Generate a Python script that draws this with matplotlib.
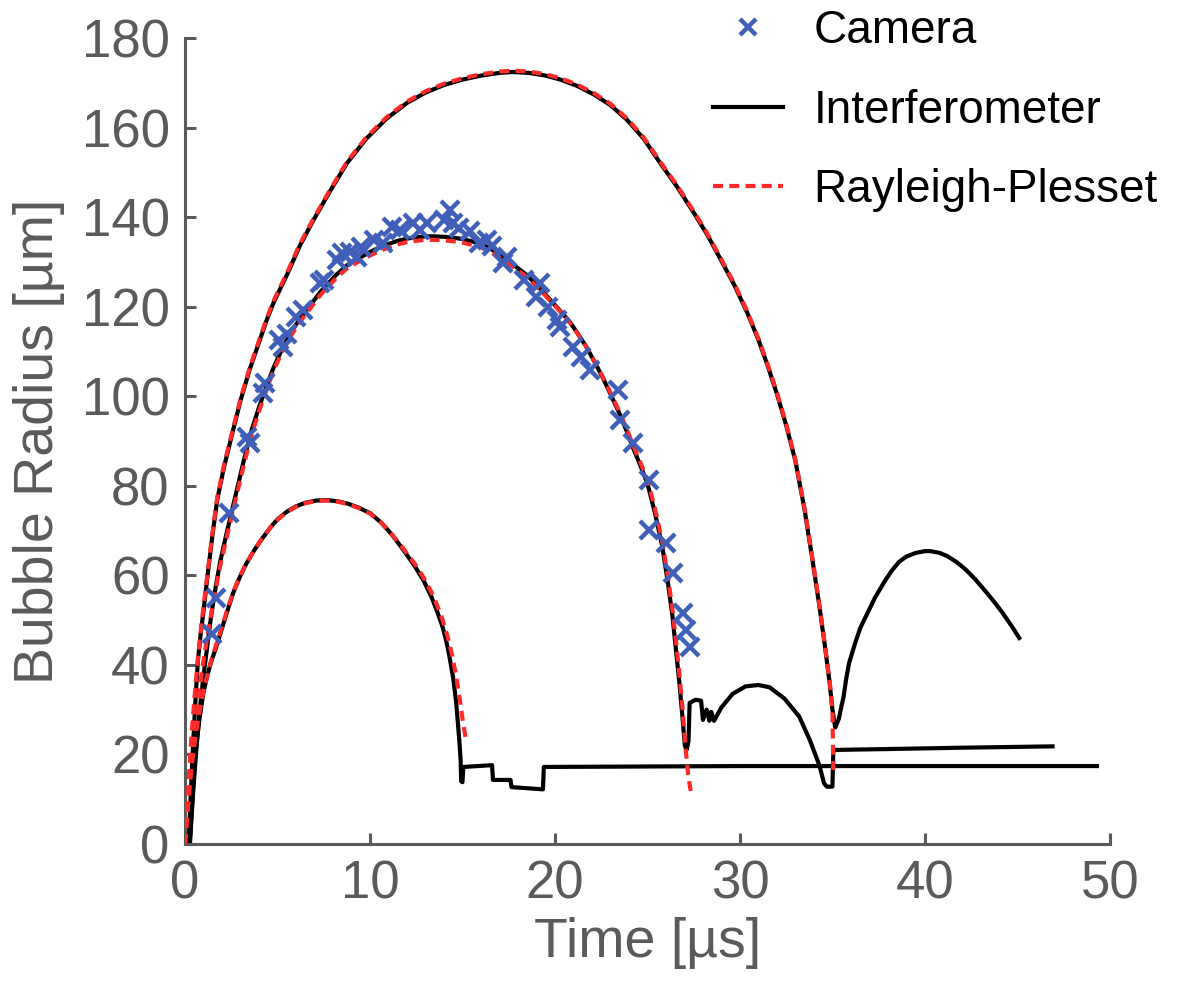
import matplotlib
matplotlib.use("Agg")
import matplotlib.pyplot as plt

plt.rcParams["font.family"] = ["Liberation Sans", "DejaVu Sans"]

# --- Camera measurements (time in us, radius in um) ---
cam_t = [1.45, 1.7, 2.4, 3.35, 3.5, 4.2, 4.3, 5.1, 5.3, 5.5, 6.0, 6.4, 7.3, 7.5,
         8.2, 8.5, 8.9, 9.3, 9.5, 10.2, 10.7, 11.2, 11.6, 12.3, 12.7, 13.1, 14.0,
         14.3, 14.5, 14.8, 15.4, 15.9, 16.3, 16.6, 17.2, 17.4, 18.3, 19.0, 19.2,
         19.6, 20.1, 20.3, 21.0, 21.4, 21.9, 23.4, 23.5, 24.2, 25.1, 25.1, 26.0,
         26.4, 26.9, 27.1, 27.3]
cam_r = [47, 55, 74, 91, 89.5, 100.7, 103, 112.5, 111, 114, 117.7, 119.2, 125.3, 126,
         130.4, 132, 132.2, 131, 133.3, 134.9, 134.2, 137.8, 137.1, 138.7, 137.1, 138.7, 139.3,
         141.6, 138.7, 137.5, 136.8, 134.2, 134.9, 133.5, 129.7, 131.1, 126, 122.2, 125.3,
         120, 117, 115.5, 111, 108.8, 105.9, 101.4, 94.7, 89.5, 81.3, 70.1, 67.2,
         60.5, 51.6, 47.8, 44]

# --- Interferometer traces ---
small_t = [0.27, 0.4, 0.54, 0.75, 0.99, 1.2, 1.4, 1.65, 1.9, 2.25, 2.6, 2.95, 3.3,
           3.7, 4.05, 4.6, 5.0, 5.5, 6.0, 6.5, 7.1, 7.7, 8.3, 8.8, 9.4, 10.0, 10.6,
           11.2, 11.8, 12.4, 12.9, 13.3, 13.6, 13.9, 14.1, 14.3, 14.5, 14.65, 14.75,
           14.85, 14.9, 14.93, 15.0, 15.05, 16.6, 16.65, 17.6, 17.65, 19.35, 19.4,
           30.0, 49.3]
small_r = [0, 10, 18.8, 27, 33.7, 37.5, 40.5, 43.5, 46.8, 51.5, 56, 59.5, 62.5,
           65.3, 67.5, 70.6, 72.5, 74.2, 75.4, 76.2, 76.7, 76.8, 76.5, 76, 75.1, 73.9, 71.8,
           69, 65.7, 62.2, 58.8, 55.4, 52.3, 48.8, 45.8, 41.8, 37, 32, 27.2,
           22, 18.8, 14, 13.8, 17.2, 17.6, 14.3, 14.3, 12.7, 12.2, 17.2,
           17.4, 17.4]

med_t = [0.25, 0.4, 0.5, 0.65, 0.8, 1.0, 1.2, 1.4, 1.6, 1.9, 2.2, 2.4, 2.8, 3.2,
         3.6, 4.0, 4.3, 4.8, 5.3, 5.7, 6.0, 6.5, 6.9, 7.3, 7.7, 8.2, 8.75, 9.4,
         10.0, 10.5, 11.0, 11.5, 12.0, 12.5, 13.0, 13.5, 14.0, 14.5, 15.0, 15.5,
         15.9, 16.5, 17.2, 17.8, 18.5, 19.2, 19.9, 20.4, 20.8, 21.2, 21.7, 22.2,
         22.6, 23.0, 23.5, 23.9, 24.2, 24.6, 25.0, 25.4, 25.8, 26.1, 26.35, 26.55,
         26.75, 26.9, 27.02, 27.12, 27.22, 27.28, 27.6, 27.9, 28.0, 28.2, 28.35,
         28.45, 28.6, 29.0, 29.6, 30.3, 31.0, 31.6, 32.4, 33.2, 33.8, 34.3, 34.55,
         34.7, 35.0, 35.05, 38.0, 42.0, 46.9]
med_r = [0, 9, 15, 23, 30, 37.5, 44, 50.5, 56, 63, 68.5, 72, 79, 86,
         92.4, 97.5, 101, 106.5, 111, 114, 116, 118.8, 121, 123.2, 125, 127.2, 129.2, 130.8,
         132.2, 133.2, 134, 134.7, 135.2, 135.5, 135.7, 135.7, 135.6, 135.4, 135.1, 134.6,
         134.2, 133, 131, 129.2, 127, 124, 120.8, 118.5, 116.6, 114.2, 111, 107.2,
         104, 100.5, 96, 92, 88.7, 84.7, 80.5, 74, 66.5, 58.5, 51, 43,
         35, 28, 22, 21, 23, 31.5, 32.2, 32, 27.7, 30, 27.5,
         29.5, 27.5, 30.5, 33.5, 35.2, 35.5, 35, 32.5, 28.5, 23, 17.5, 13.5,
         12.8, 12.8, 21, 21.2, 21.5, 21.8]

big_t = [0.2, 0.3, 0.4, 0.55, 0.7, 0.85, 1.0, 1.25, 1.5, 1.75, 2.1, 2.6, 3.0, 3.5,
         4.0, 4.4, 4.8, 5.5, 6.2, 6.9, 7.8, 8.75, 9.8, 10.9, 12.0, 13.0, 14.0,
         15.0, 16.0, 17.0, 17.7, 18.6, 19.5, 20.3, 21.2, 22.1, 23.0, 23.9, 24.8,
         25.7, 26.6, 27.5, 28.2, 28.9, 29.7, 30.4, 31.0, 31.5, 32.0, 32.5, 33.0,
         33.5, 33.9, 34.3, 34.6, 34.85, 35.0, 35.15, 35.35, 35.5, 35.6, 35.75,
         35.9, 36.2, 36.5, 36.9, 37.3, 37.8, 38.2, 38.6, 39.0, 39.5, 40.0, 40.3,
         40.8, 41.2, 41.7, 42.2, 42.7, 43.2, 43.7, 44.2, 44.7, 45.1]
big_r = [0, 10, 19, 31, 41, 47, 52, 61, 69.5, 77, 84, 92.4, 99, 106,
         112, 116.8, 121, 127, 133.5, 139, 145.5, 152, 157.5, 162, 165.5, 167.8, 169.5,
         170.7, 171.6, 172.2, 172.4, 172.2, 171.6, 170.7, 169.3, 167.4, 165, 161.7, 157.5,
         152, 146.8, 141, 136.3, 131, 124.8, 118.6, 112.6, 106.8, 100.5, 93.5, 85.5,
         74.5, 64, 53, 44, 36, 30, 26, 28, 31, 32.8, 37,
         40.4, 44.5, 48.2, 51.6, 55, 58.5, 61, 63, 64.2, 65, 65.4, 65.4,
         65, 64.3, 63, 61.3, 59.2, 56.8, 54.3, 51.6, 48.6, 46]

# --- Rayleigh-Plesset fits ---
rp_small_t = [0.0, 0.15, 0.3, 0.45, 0.6, 0.8, 1.0, 1.2, 1.4, 1.65, 1.9, 2.25, 2.6,
              2.95, 3.3, 3.7, 4.05, 4.6, 5.0, 5.5, 6.0, 6.5, 7.1, 7.7, 8.3, 8.8, 9.4,
              10.0, 10.6, 11.2, 11.8, 12.4, 12.9, 13.3, 13.6, 13.9, 14.2, 14.45, 14.65,
              14.85, 15.0, 15.2]
rp_small_r = [0, 8, 15, 20.5, 25, 29.8, 34, 37.5, 40.8, 44, 47.2, 51.8, 56.2,
              59.6, 62.6, 65.3, 67.5, 70.6, 72.4, 74.1, 75.3, 76.1, 76.6, 76.7, 76.4, 75.9, 75,
              73.8, 71.8, 69.1, 66, 62.7, 59.5, 56.4, 53.6, 50.4, 46.3, 42, 37.7,
              32.5, 28, 23]

rp_med_t = [0.0, 0.15, 0.3, 0.45, 0.6, 0.8, 1.0, 1.2, 1.4, 1.6, 1.9, 2.2, 2.4, 2.8,
            3.2, 3.6, 4.0, 4.3, 4.8, 5.3, 5.7, 6.0, 6.5, 6.9, 7.3, 7.7, 8.2, 8.75,
            9.4, 10.0, 10.5, 11.0, 11.5, 12.0, 12.5, 13.0, 13.5, 14.0, 14.5, 15.0,
            15.5, 15.9, 16.5, 17.2, 17.8, 18.5, 19.2, 19.9, 20.4, 20.8, 21.2, 21.7,
            22.2, 22.6, 23.0, 23.5, 23.9, 24.2, 24.6, 25.0, 25.4, 25.8, 26.1, 26.35,
            26.55, 26.75, 26.9, 27.05, 27.2, 27.35]
rp_med_r = [0, 8, 16, 22.5, 28, 35, 41, 46, 51, 55.5, 62, 67.5, 71, 78,
            85, 91.3, 96.6, 100.2, 105.8, 110.3, 113.3, 115.3, 118.2, 120.3, 122.5, 124.3, 126.5, 128.5,
            130.1, 131.4, 132.4, 133.2, 133.9, 134.4, 134.7, 134.9, 134.9, 134.8, 134.6, 134.3,
            133.8, 133.4, 132.3, 130.4, 128.7, 126.6, 123.7, 120.6, 118.4, 116.5, 114.1, 111,
            107.3, 104.2, 100.8, 96.4, 92.5, 89.3, 85.4, 81.3, 75, 67.6, 59.8, 52.5,
            45, 37, 30, 22, 15.5, 11.5]

rp_big_t = [0.0, 0.1, 0.2, 0.35, 0.5, 0.7, 0.85, 1.0, 1.25, 1.5, 1.75, 2.1, 2.6, 3.0,
            3.5, 4.0, 4.4, 4.8, 5.5, 6.2, 6.9, 7.8, 8.75, 9.8, 10.9, 12.0, 13.0,
            14.0, 15.0, 16.0, 17.0, 17.7, 18.6, 19.5, 20.3, 21.2, 22.1, 23.0, 23.9,
            24.8, 25.7, 26.6, 27.5, 28.2, 28.9, 29.7, 30.4, 31.0, 31.5, 32.0, 32.5,
            33.0, 33.5, 33.9, 34.3, 34.6, 34.85, 35.0, 35.05]
rp_big_r = [0, 7, 14, 24, 32, 41.5, 47.5, 53, 61.5, 70, 77.5, 84.5, 92.8, 99.4,
            106.4, 112.4, 117.2, 121.4, 127.4, 133.9, 139.3, 145.8, 152.3, 157.8, 162.3, 165.8, 168.1,
            169.8, 171, 171.9, 172.5, 172.7, 172.5, 171.9, 171, 169.6, 167.7, 165.3, 162,
            157.8, 152.3, 147.1, 141.3, 136.6, 131.3, 125.1, 118.9, 112.9, 107.1, 100.8, 93.8,
            85.8, 74.8, 64.3, 53.3, 44.3, 36.3, 30, 16.5]

x_ticks = [0, 10, 20, 30, 40, 50]
y_ticks = [0, 20, 40, 60, 80, 100, 120, 140, 160, 180]

GREY = "#5a5a5a"
BLUE = "#3f5fb8"
RED = "#ff2a2a"
LW = 3.0
DASH = (2.4, 1.5)

fig = plt.figure(figsize=(11.82, 9.84), dpi=100)
ax = fig.add_axes([0.1565, 0.1423, 0.7825, 0.8191])

# black interferometer traces
ax.plot(small_t, small_r, color="black", lw=LW, solid_joinstyle="round", zorder=2)
ax.plot(med_t, med_r, color="black", lw=LW, solid_joinstyle="round", zorder=2)
ax.plot(big_t, big_r, color="black", lw=LW, solid_joinstyle="round", zorder=2,
        label="Interferometer")

# red RP fits
for t, r in [(rp_small_t, rp_small_r), (rp_med_t, rp_med_r)]:
    ax.plot(t, r, color=RED, lw=LW, dashes=DASH, zorder=3)
ax.plot(rp_big_t, rp_big_r, color=RED, lw=LW, dashes=DASH, zorder=3,
        label="Rayleigh-Plesset")

# camera points
ax.plot(cam_t, cam_r, linestyle="none", marker="x", color=BLUE, ms=13, mew=3.2,
        zorder=4, label="Camera")

ax.set_xlim(0, 50)
ax.set_ylim(0, 180)
ax.set_xticks(x_ticks)
ax.set_yticks(y_ticks)

for side in ["top", "right"]:
    ax.spines[side].set_visible(False)
for side in ["left", "bottom"]:
    ax.spines[side].set_color(GREY)
    ax.spines[side].set_linewidth(2.2)

ax.tick_params(direction="in", length=8, width=2.2, color=GREY,
               labelsize=38, labelcolor=GREY)
ax.tick_params(axis="x", pad=11)
ax.tick_params(axis="y", pad=11)

ax.set_xlabel("Time [µs]", fontsize=40, color=GREY)
ax.set_ylabel("Bubble Radius [µm]", fontsize=40, color=GREY)
ax.xaxis.set_label_coords(0.5, -0.09)
ax.yaxis.set_label_coords(-0.13, 0.5)

handles, labels = ax.get_legend_handles_labels()
order = [labels.index(n) for n in ["Camera", "Interferometer", "Rayleigh-Plesset"]]
leg = ax.legend([handles[i] for i in order], [labels[i] for i in order],
                loc="upper left", bbox_to_anchor=(713 / 1182, 1 - 9 / 984),
                bbox_transform=fig.transFigure, frameon=False, fontsize=33,
                borderpad=0, borderaxespad=0, handlelength=1.52,
                handletextpad=0.67, labelspacing=0.78)
for h in leg.legend_handles:
    try:
        if h.get_marker() == "x":
            h.set_markersize(11)
    except Exception:
        pass

fig.savefig("out.png", dpi=100)
